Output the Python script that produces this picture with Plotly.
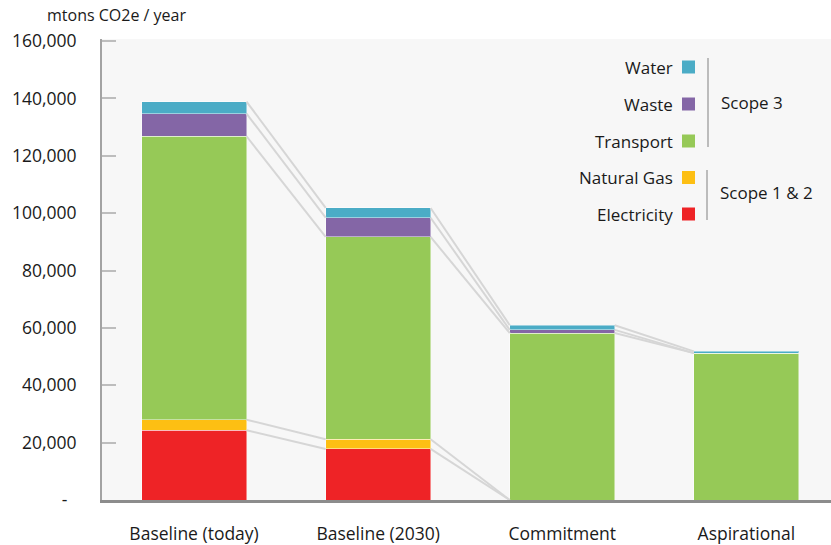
import plotly.graph_objects as go
import numpy as np

categories = ["Baseline (today)", "Baseline (2030)", "Commitment", "Aspirational"]
electricity = [24300, 17800, 0, 0]
natural_gas = [3700, 3400, 0, 0]
transport = [98800, 70500, 58200, 51200]
waste = [7900, 6700, 1100, 0]
water = [4200, 3400, 1600, 600]

series_names = ["Electricity", "Natural Gas", "Transport", "Waste", "Water"]
series_vals = [electricity, natural_gas, transport, waste, water]
colors = ["#ee2326", "#fdbf13", "#96c957", "#8466a6", "#4bacc6"]

y_tickvals = [0, 20000, 40000, 60000, 80000, 100000, 120000, 140000, 160000]
y_ticktext = ["-\u00a0\u00a0", "20,000", "40,000", "60,000", "80,000", "100,000", "120,000", "140,000", "160,000"]

W, H = 831, 545
ML, MR, MT, MB = 102, 0, 39, 45
BAR_W = 0.57
FONT = "Open Sans"
TXT = "#1a1a1a"

xs = np.arange(len(categories))
fig = go.Figure()

# connector lines between stacked segment tops
cum = np.cumsum(np.array(series_vals), axis=0)
for k in range(len(series_names)):
    for i in range(len(categories) - 1):
        y0, y1 = cum[k][i], cum[k][i + 1]
        if series_vals[k][i] == 0 and series_vals[k][i + 1] == 0:
            continue
        fig.add_trace(go.Scatter(
            x=[xs[i] + BAR_W / 2, xs[i + 1] - BAR_W / 2], y=[y0, y1],
            mode="lines", line=dict(color="#d6d6d6", width=2),
            showlegend=False, hoverinfo="skip"))

for name, vals, c in zip(series_names, series_vals, colors):
    fig.add_trace(go.Bar(
        x=xs, y=vals, name=name, width=BAR_W,
        marker=dict(color=c, line=dict(color="rgba(255,255,255,0.45)", width=1)),
        showlegend=False))

pw = W - ML - MR
ph = H - MT - MB


def px(x):
    return (x - ML) / pw


def py(y):
    return (H - MB - y) / ph


annotations = []
shapes = []
legend_y = {"Water": 67, "Waste": 104, "Transport": 141, "Natural Gas": 177.5, "Electricity": 214}
for name, c in zip(series_names, colors):
    yy = legend_y[name]
    annotations.append(dict(xref="paper", yref="paper", x=px(675), y=py(yy), text=name,
                            showarrow=False, xanchor="right", yanchor="middle",
                            font=dict(family=FONT, size=17, color=TXT)))
    shapes.append(dict(type="rect", xref="paper", yref="paper",
                       x0=px(682), x1=px(695), y0=py(yy + 6.5), y1=py(yy - 6.5),
                       fillcolor=c, line=dict(width=0)))

shapes.append(dict(type="line", xref="paper", yref="paper", x0=px(708), x1=px(708),
                   y0=py(58), y1=py(147), line=dict(color="#a8a8a8", width=1.5)))
shapes.append(dict(type="line", xref="paper", yref="paper", x0=px(707), x1=px(707),
                   y0=py(170), y1=py(220), line=dict(color="#a8a8a8", width=1.5)))
annotations.append(dict(xref="paper", yref="paper", x=px(719), y=py(102), text="Scope 3",
                        showarrow=False, xanchor="left", yanchor="middle",
                        font=dict(family=FONT, size=17, color=TXT)))
annotations.append(dict(xref="paper", yref="paper", x=px(718), y=py(192), text="Scope 1 &amp; 2",
                        showarrow=False, xanchor="left", yanchor="middle",
                        font=dict(family=FONT, size=17, color=TXT)))
annotations.append(dict(xref="paper", yref="paper", x=px(45), y=py(15), text="mtons CO2e / year",
                        showarrow=False, xanchor="left", yanchor="middle",
                        font=dict(family=FONT, size=16, color=TXT)))

fig.update_layout(
    width=W, height=H,
    margin=dict(l=ML, r=MR, t=MT, b=MB, pad=0, autoexpand=False),
    barmode="stack",
    paper_bgcolor="white",
    plot_bgcolor="#f7f7f7",
    font=dict(family=FONT, color=TXT),
    annotations=annotations,
    shapes=shapes,
    showlegend=False,
    xaxis=dict(
        range=[-0.5, 3.46], tickvals=list(xs), ticktext=categories,
        showgrid=False, zeroline=False, showline=True, linecolor="#8c8c8c", linewidth=2.5,
        ticks="", ticklabelstandoff=16, tickfont=dict(family=FONT, size=17.5, color=TXT),
        automargin=False, fixedrange=True,
    ),
    yaxis=dict(
        range=[0, 160700], tickvals=y_tickvals, ticktext=y_ticktext,
        showgrid=False, zeroline=False, showline=True, linecolor="#a3a3a3", linewidth=2,
        ticks="inside", ticklen=14, tickcolor="#bdbdbd", tickwidth=2,
        ticklabelstandoff=20, tickfont=dict(family=FONT, size=17.5, color=TXT),
        automargin=False, fixedrange=True,
    ),
)

fig.write_html(
    "out.html",
    config={"displayModeBar": False},
    post_script="document.body.style.margin='0';document.body.style.padding='0';"
                "document.body.style.overflow='hidden';",
)
